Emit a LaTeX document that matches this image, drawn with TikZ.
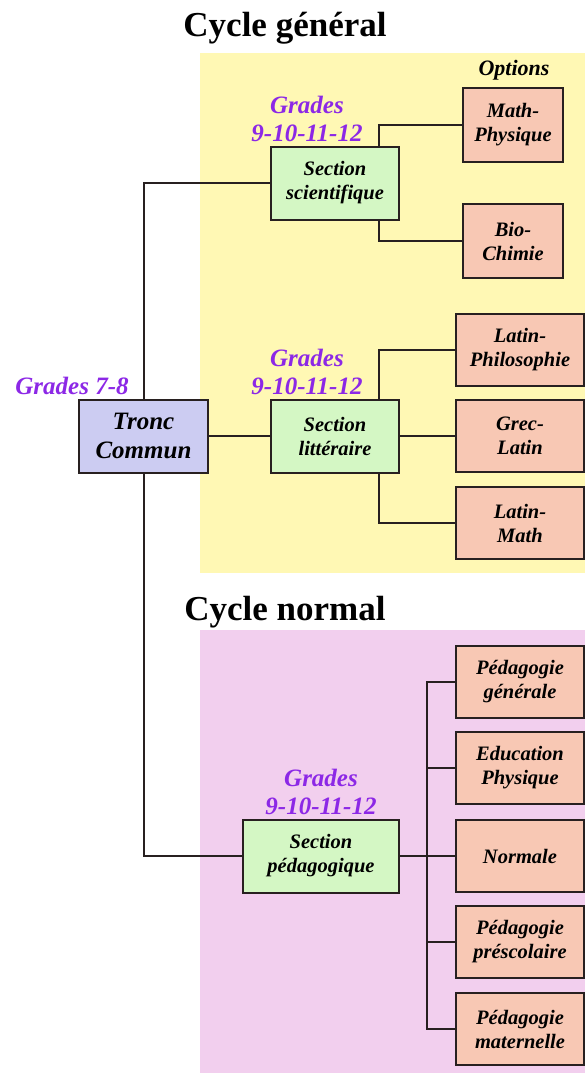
\documentclass[tikz,border=0pt]{standalone}
\usepackage{fontspec}
\setmainfont{Liberation Serif}
\definecolor{yellowbg}{RGB}{255,248,180}
\definecolor{pinkbg}{RGB}{242,207,238}
\definecolor{sectfill}{RGB}{212,247,196}
\definecolor{optfill}{RGB}{248,200,180}
\definecolor{troncfill}{RGB}{204,204,242}
\definecolor{gradecol}{RGB}{140,40,230}
\definecolor{edge}{RGB}{40,32,32}

\begin{document}
\begin{tikzpicture}[x=1pt,y=-1pt,
    box/.style={draw=edge, line width=2pt, align=center, inner sep=0pt,
        font=\fontsize{20.5}{24}\selectfont\bfseries\itshape},
    opt/.style={box, fill=optfill, minimum width=128pt, minimum height=72pt},
    sect/.style={box, fill=sectfill, minimum width=128pt, minimum height=73pt},
    grades/.style={align=center, text=gradecol, inner sep=0pt,
        font=\fontsize{25}{28}\selectfont\bfseries\itshape},
    cycle/.style={inner sep=0pt, font=\fontsize{35}{40}\selectfont\bfseries},
    link/.style={draw=edge, line width=2pt}]
    \useasboundingbox (0,0) rectangle (585,1073);

    % backgrounds
    \fill[yellowbg] (200,53) rectangle (585,573);
    \fill[pinkbg] (200,630) rectangle (585,1073);

    % titles
    \node[cycle] (tgen) at (285,28) {Cycle général};
    \node[cycle] (tnor) at (285,612) {Cycle normal};
    \node[inner sep=0pt, font=\fontsize{22}{24}\selectfont\bfseries\itshape] (opts) at (514,70) {Options};

    % tronc commun
    \node[box, fill=troncfill, minimum width=129pt, minimum height=73pt,
        font=\fontsize{25}{29}\selectfont\bfseries\itshape] (tc) at (143.5,436) {Tronc\\Commun};
    \node[grades] (g78) at (72,386) {Grades 7-8};

    % section scientifique
    \node[sect] (sci) at (335,183) {Section\\scientifique};
    \node[grades] (gsci) at (307,119) {Grades\\9-10-11-12};
    \node[opt, minimum width=100pt, minimum height=74pt] (mp) at (513,125) {Math-\\Physique};
    \node[opt, minimum width=100pt, minimum height=74pt] (bc) at (513,241) {Bio-\\Chimie};

    % section litteraire
    \node[sect] (lit) at (335,436) {Section\\littéraire};
    \node[grades] (glit) at (307,372) {Grades\\9-10-11-12};
    \node[opt] (lph) at (520,350) {Latin-\\Philosophie};
    \node[opt] (gl) at (520,436) {Grec-\\Latin};
    \node[opt] (lm) at (520,523) {Latin-\\Math};

    % section pedagogique
    \node[sect, minimum width=156pt] (ped) at (321,856) {Section\\pédagogique};
    \node[grades] (gped) at (321,792) {Grades\\9-10-11-12};
    \node[opt] (pg) at (520,682) {Pédagogie\\générale};
    \node[opt] (ep) at (520,768) {Education\\Physique};
    \node[opt] (nor) at (520,856) {Normale};
    \node[opt] (pp) at (520,942) {Pédagogie\\préscolaire};
    \node[opt] (pm) at (520,1029) {Pédagogie\\maternelle};
    \coordinate (bus) at (427,856);

    % connectors
    \draw[link] (tc.north) |- (sci.west);
    \draw[link] (tc.east) -- (lit.west);
    \draw[link] (tc.south) |- (ped.west);
    \draw[link] ([xshift=-21pt]sci.north east) |- (mp.west);
    \draw[link] ([xshift=-21pt]sci.south east) |- (bc.west);
    \draw[link] ([xshift=-21pt]lit.north east) |- (lph.west);
    \draw[link] (lit.east) -- (gl.west);
    \draw[link] ([xshift=-21pt]lit.south east) |- (lm.west);
    \draw[link] (ped.east) -- (nor.west);
    \draw[link] (pg.west) -- (pg.west -| bus) |- (pm.west);
    \draw[link] (ep.west) -- (ep.west -| bus);
    \draw[link] (pp.west) -- (pp.west -| bus);
\end{tikzpicture}
\end{document}
